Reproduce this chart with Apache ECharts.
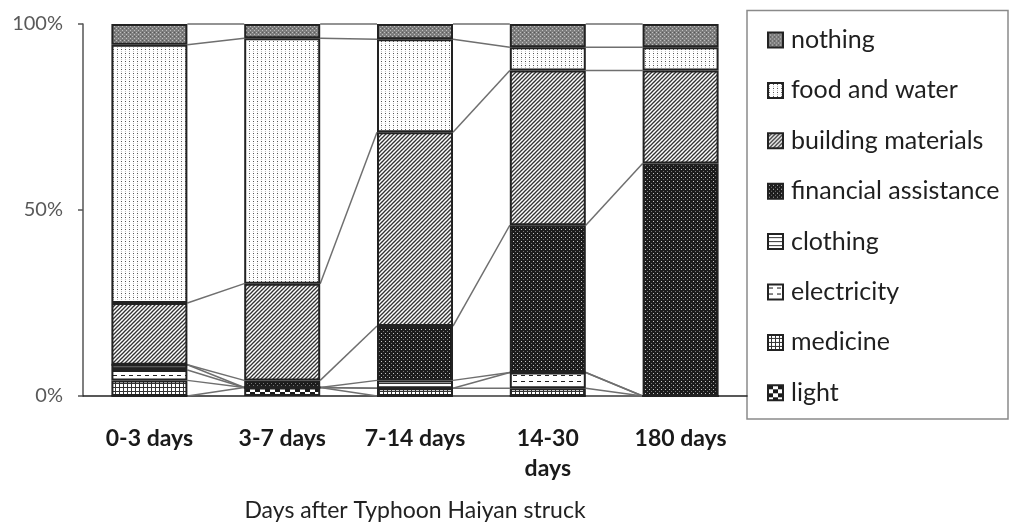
<!DOCTYPE html>
<html>
<head>
<meta charset="utf-8">
<script src="https://cdn.jsdelivr.net/npm/echarts@6/dist/echarts.min.js"></script>
<style>
  html, body { margin: 0; padding: 0; background: #fff; }
  #chart { width: 1010px; height: 527px; }
</style>
</head>
<body>
<div id="chart"></div>
<script>
// Days after the typhoon struck (x categories)
const categories = ['0-3 days', '3-7 days', '7-14 days', '14-30\ndays', '180 days'];

// Share of respondents (%) naming each most-needed item, stacked bottom to top
const light       = [0,    2.3,  0,    0,    0];
const medicine    = [4.2,  0,    2.1,  2.1,  0];
const electricity = [2.8,  0,    0,    4.2,  0];
const clothing    = [1.4,  0,    2.1,  0,    0];
const financial   = [0,    1.9,  14.6, 39.6, 62.5];
const building    = [16.6, 26.0, 52.1, 41.6, 25.0];
const foodWater   = [69.4, 66.0, 25.0, 6.25, 6.25];
const nothing     = [5.6,  3.8,  4.1,  6.25, 6.25];

const yTicks = [0, 50, 100];

// Hatch fills built on small canvas tiles
function tile(w, h, draw) {
  const c = document.createElement('canvas');
  c.width = w; c.height = h;
  const g = c.getContext('2d');
  draw(g, w, h);
  return { image: c, repeat: 'repeat' };
}
const fills = {
  nothing: tile(4, 4, (g) => {
    g.fillStyle = '#7e7e7e'; g.fillRect(0, 0, 4, 4);
    g.fillStyle = '#c0c0c0'; g.fillRect(0, 0, 1, 1); g.fillRect(2, 2, 1, 1);
    g.fillStyle = '#585858'; g.fillRect(2, 0, 1, 1);
  }),
  food: tile(4, 4, (g) => {
    g.fillStyle = '#ffffff'; g.fillRect(0, 0, 4, 4);
    g.fillStyle = '#555555'; g.fillRect(1, 1, 1, 1);
    g.fillStyle = '#c0c0c0'; g.fillRect(1, 3, 1, 1);
  }),
  building: tile(4, 4, (g) => {
    g.fillStyle = '#ffffff'; g.fillRect(0, 0, 4, 4);
    g.strokeStyle = '#333333'; g.lineWidth = 1.3;
    [[-4, 4, 4, -4], [0, 4, 4, 0], [0, 8, 8, 0]].forEach(([a, b, c, d]) => {
      g.beginPath(); g.moveTo(a, b); g.lineTo(c, d); g.stroke();
    });
  }),
  financial: tile(4, 4, (g) => {
    g.fillStyle = '#1c1c1c'; g.fillRect(0, 0, 4, 4);
    g.fillStyle = '#c8c8c8'; g.fillRect(1, 1, 1, 1);
    g.fillStyle = '#777777'; g.fillRect(3, 3, 1, 1);
  }),
  clothing: tile(4, 4, (g) => {
    g.fillStyle = '#ffffff'; g.fillRect(0, 0, 4, 4);
    g.fillStyle = '#333333'; g.fillRect(0, 3, 4, 1);
  }),
  electricity: tile(8, 6, (g) => {
    g.fillStyle = '#ffffff'; g.fillRect(0, 0, 8, 6);
    g.fillStyle = '#222222'; g.fillRect(1, 3, 4, 1);
  }),
  medicine: tile(4, 4, (g) => {
    g.fillStyle = '#ffffff'; g.fillRect(0, 0, 4, 4);
    g.fillStyle = '#333333'; g.fillRect(0, 3, 4, 1); g.fillRect(3, 0, 1, 4);
  }),
  light: tile(10, 8, (g) => {
    g.fillStyle = '#ffffff'; g.fillRect(0, 0, 10, 8);
    g.fillStyle = '#1a1a1a'; g.fillRect(0, 0, 5, 4); g.fillRect(5, 4, 5, 4);
  })
};

// Bottom-to-top stacking order
const stackDefs = [
  ['light', light, fills.light],
  ['medicine', medicine, fills.medicine],
  ['electricity', electricity, fills.electricity],
  ['clothing', clothing, fills.clothing],
  ['financial assistance', financial, fills.financial],
  ['building materials', building, fills.building],
  ['food and water', foodWater, fills.food],
  ['nothing', nothing, fills.nothing]
];

// Running top of each stacked segment, used for the connector lines
const tops = [];
stackDefs.forEach(([, vals], s) => {
  tops.push(vals.map((v, i) => (s ? tops[s - 1][i] : 0) + v));
});

const BAR_W = 76;
const FONT = 'Lato, "Open Sans", sans-serif';

const barSeries = stackDefs.map(([name, vals, fill]) => ({
  name,
  type: 'bar',
  stack: 'total',
  barWidth: BAR_W,
  data: vals,
  itemStyle: { color: fill, borderColor: '#222', borderWidth: 2 },
  emphasis: { disabled: true },
  z: 3
}));

// Connector lines between the tops of matching segments of neighbouring bars
const linkData = [];
for (let s = 0; s < tops.length; s++) {
  for (let i = 0; i < categories.length - 1; i++) linkData.push([i, s]);
}
const linkSeries = {
  type: 'custom',
  silent: true,
  z: 2,
  data: linkData,
  encode: { x: 0, y: -1 },
  renderItem: (params, api) => {
    const i = api.value(0), s = api.value(1);
    const half = BAR_W / 2;
    const p1 = api.coord([i, tops[s][i]]);
    const p2 = api.coord([i + 1, tops[s][i + 1]]);
    return {
      type: 'line',
      shape: { x1: p1[0] + half, y1: p1[1], x2: p2[0] - half, y2: p2[1] },
      style: { stroke: '#6f6f6f', lineWidth: 1.5 }
    };
  }
};

const chart = echarts.init(document.getElementById('chart'), null, { renderer: 'canvas' });
chart.setOption({
  animation: false,
  backgroundColor: '#ffffff',
  textStyle: { fontFamily: FONT },
  grid: { left: 83, right: 263, top: 24, bottom: 131, containLabel: false, outerBoundsMode: 'none' },
  xAxis: {
    type: 'category',
    data: categories,
    name: 'Days after Typhoon Haiyan struck',
    nameLocation: 'middle',
    nameGap: 103,
    nameTextStyle: { fontSize: 23, color: '#222', fontFamily: FONT },
    axisLine: { lineStyle: { color: '#222', width: 1.5 } },
    axisTick: { show: false },
    axisLabel: {
      fontSize: 23, fontWeight: 'bold', color: '#1a1a1a', fontFamily: FONT,
      margin: 28, lineHeight: 30, interval: 0
    }
  },
  yAxis: {
    type: 'value',
    min: yTicks[0],
    max: yTicks[yTicks.length - 1],
    interval: yTicks[1] - yTicks[0],
    splitLine: { show: false },
    axisLine: { show: true, lineStyle: { color: '#555', width: 1.5 } },
    axisTick: { show: true, length: 5, lineStyle: { color: '#555', width: 1.5 } },
    axisLabel: { formatter: '{value}%', fontSize: 20, color: '#595959', margin: 20, fontFamily: FONT }
  },
  legend: {
    orient: 'vertical',
    left: 767,
    top: 27,
    padding: 0,
    itemWidth: 15,
    itemHeight: 15,
    itemGap: 24.4,
    icon: 'rect',
    selectedMode: false,
    data: stackDefs.map(d => d[0]).reverse(),
    textStyle: { fontSize: 25, color: '#1f1f1f', lineHeight: 26, padding: [0, 0, 0, 3], fontFamily: FONT }
  },
  graphic: [{
    type: 'rect',
    shape: { x: 747, y: 10.5, width: 261, height: 408.5 },
    style: { fill: 'none', stroke: '#8a8a8a', lineWidth: 1.5 },
    silent: true,
    z: 0
  }],
  series: [linkSeries, ...barSeries]
});
</script>
</body>
</html>
